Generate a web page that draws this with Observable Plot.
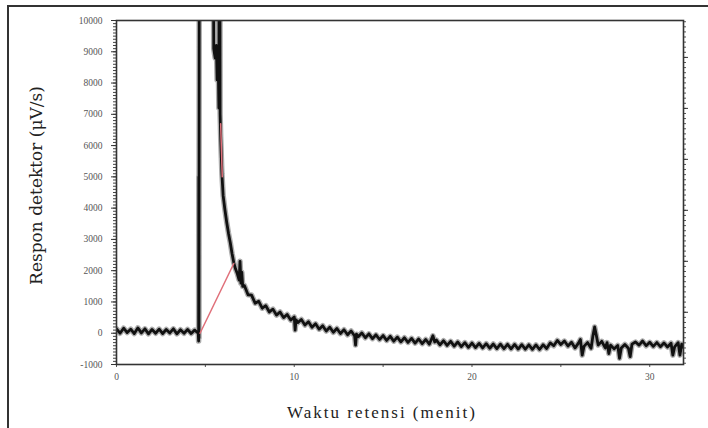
<!DOCTYPE html>
<html><head><meta charset="utf-8">
<script src="https://cdn.jsdelivr.net/npm/d3@7"></script>
<script src="https://cdn.jsdelivr.net/npm/@observablehq/plot@0.6"></script>
<style>
body{margin:0;background:#fff;}
#wrap{position:relative;width:708px;height:428px;overflow:hidden;background:#fff;}
#border{position:absolute;left:7px;top:5px;width:720px;height:440px;border-top:2px solid #333;border-left:2px solid #333;pointer-events:none;}
</style></head><body><div id="wrap"><div id="border"></div></div>
<script>
// Chromatogram trace: [retention time (min), detector response (µV/s)]
const trace = [
  [0.0,140],[0.2,0],[0.4,160],[0.6,20],[0.8,130],[1.0,-10],[1.2,170],[1.4,10],[1.6,140],[1.8,-20],
  [2.0,120],[2.2,0],[2.4,130],[2.6,-10],[2.8,120],[3.0,10],[3.2,140],[3.4,-20],[3.6,110],[3.8,0],
  [4.0,120],[4.2,-10],[4.4,100],[4.6,0],
  [4.62,-250],[4.63,5000],[4.64,-150],[4.66,15000],[5.44,15000],[5.47,9100],[5.55,8800],[5.62,9200],
  [5.66,8100],[5.72,8800],[5.76,7200],[5.78,15000],[5.81,15000],[5.83,7000],[5.86,6300],[5.9,5600],
  [5.93,5100],[5.97,4700],[6.0,4400],[6.1,3950],[6.2,3550],[6.3,3200],[6.4,2900],[6.5,2550],[6.6,2250],
  [6.7,2050],[6.8,1900],[6.9,1700],[6.95,2300],[7.0,1600],[7.05,1950],[7.1,1500],
  [7.2,1520],[7.4,1230],[7.6,1220],[7.8,960],[8.0,1020],[8.2,800],[8.4,880],[8.6,680],[8.8,770],
  [9.0,580],[9.2,680],[9.4,500],[9.6,600],[9.8,420],[10.0,520],[10.05,100],[10.1,430],[10.2,340],
  [10.4,440],[10.6,260],[10.8,370],[11.0,190],[11.2,300],[11.4,130],[11.6,240],[11.8,70],[12.0,190],
  [12.2,30],[12.4,150],[12.6,-10],[12.8,110],[13.0,-50],[13.2,70],[13.4,-90],[13.45,-380],[13.5,-30],
  [13.6,-110],[13.8,10],[14.0,-145],[14.2,-20],[14.4,-175],[14.6,-50],[14.8,-200],[15.0,-75],
  [15.2,-230],[15.4,-100],[15.6,-255],[15.8,-125],[16.0,-275],[16.2,-145],[16.4,-295],[16.6,-165],
  [16.8,-315],[17.0,-185],[17.2,-335],[17.4,-200],[17.6,-350],[17.8,-80],[17.9,-280],[18.0,-220],
  [18.2,-370],[18.4,-240],[18.6,-390],[18.8,-260],[19.0,-410],[19.2,-280],[19.4,-430],[19.6,-300],
  [19.8,-450],[20.0,-315],[20.2,-460],[20.4,-325],[20.6,-470],[20.8,-335],[21.0,-480],[21.2,-345],
  [21.4,-490],[21.6,-350],[21.8,-495],[22.0,-355],[22.2,-500],[22.4,-360],[22.6,-505],[22.8,-365],
  [23.0,-510],[23.2,-370],[23.4,-515],[23.6,-375],[23.8,-520],[24.0,-370],[24.2,-490],[24.4,-310],
  [24.6,-400],[24.8,-230],[25.0,-360],[25.2,-250],[25.4,-410],[25.6,-290],[25.8,-470],[26.0,-310],
  [26.1,-200],[26.2,-700],[26.3,-420],[26.5,-300],[26.7,-480],[26.8,-100],[26.9,200],[27.0,-80],
  [27.1,-380],[27.3,-260],[27.5,-470],[27.6,-300],[27.7,-650],[27.8,-380],[28.0,-500],[28.2,-390],
  [28.3,-800],[28.4,-470],[28.6,-360],[28.8,-480],[28.9,-750],[29.0,-350],[29.2,-280],[29.4,-380],
  [29.6,-250],[29.8,-400],[30.0,-290],[30.2,-420],[30.4,-300],[30.6,-430],[30.8,-310],[31.0,-440],
  [31.2,-320],[31.3,-700],[31.4,-440],[31.6,-300],[31.7,-700],[31.8,-350],[31.9,-450]
];
// Integration baseline (red) and red-highlighted part of the peak
const redBaseline = [[4.7, 0], [6.6, 2230]];
const redPeak = [[5.86, 6700], [5.95, 5000]];

const xTickLabels = [0, 10, 20, 30];
const xMinorTicks = [5, 15, 25];
const yTickLabels = [-1000, 0, 1000, 2000, 3000, 4000, 5000, 6000, 7000, 8000, 9000, 10000];
const rightTicks = [670, 2300, 3930, 5560, 7190, 8820];

const xLabel = "Waktu retensi (menit)";
const yLabel = "Respon detektor (\u03BCV/s)";

const yMinor = d3.range(-1000, 10001, 100);
const rightMinor = d3.range(-960, 10000, 163);

const chart = Plot.plot({
  width: 708,
  height: 428,
  marginLeft: 116,
  marginRight: 25,
  marginTop: 20,
  marginBottom: 64,
  style: {fontFamily: "'Liberation Serif', serif", fontSize: "9.5px", color: "#555", background: "transparent"},
  x: {domain: [0, 31.9]},
  y: {domain: [-1000, 10000]},
  marks: [
    Plot.axisY({ticks: yMinor, tickSize: 3, tickFormat: () => "", stroke: "#444", label: null}),
    Plot.axisY({ticks: yTickLabels, tickSize: 5, tickPadding: 9, tickFormat: d => String(d), stroke: "#333", fill: "#555", label: null}),
    Plot.axisY({anchor: "right", ticks: rightMinor, tickSize: 2, tickFormat: () => "", stroke: "#555", label: null}),
    Plot.axisY({anchor: "right", ticks: rightTicks, tickSize: 4, tickFormat: () => "", stroke: "#333", label: null}),
    Plot.axisX({ticks: xTickLabels, tickSize: 3, tickPadding: 6, tickFormat: d => String(d), stroke: "#555", fill: "#555", label: null}),
    Plot.axisX({ticks: xMinorTicks, tickSize: 3, tickFormat: () => "", stroke: "#555", label: null}),
    Plot.line(trace, {x: d => d[0], y: d => d[1], stroke: "#777", strokeOpacity: 0.6, strokeWidth: 5.5, strokeLinejoin: "round", clip: true}),
    Plot.line(trace, {x: d => d[0], y: d => d[1], stroke: "#111", strokeWidth: 2.8, strokeLinejoin: "round", clip: true}),
    Plot.line(redBaseline, {x: d => d[0], y: d => d[1], stroke: "#e0707a", strokeWidth: 1.5, clip: true}),
    Plot.line(redPeak, {x: d => d[0], y: d => d[1], stroke: "#e0707a", strokeWidth: 1.5, clip: true}),
    Plot.frame({stroke: "#333", strokeWidth: 1.6}),
    Plot.text([xLabel], {frameAnchor: "bottom", dx: -18, dy: 48, lineAnchor: "middle", textAnchor: "middle", text: d => d,
      fontSize: 17, fill: "#222", fontFamily: "'Liberation Serif', serif"}),
    Plot.text([yLabel], {frameAnchor: "left", rotate: -90, dx: -80, dy: -7, lineAnchor: "middle", textAnchor: "middle", text: d => d,
      fontSize: 17, fill: "#222", fontFamily: "'DejaVu Serif', serif"})
  ]
});
d3.select(chart).selectAll("text").filter(function() { return this.textContent === xLabel; })
  .attr("letter-spacing", "2px");
document.getElementById("wrap").prepend(chart);
</script>
</body></html>
